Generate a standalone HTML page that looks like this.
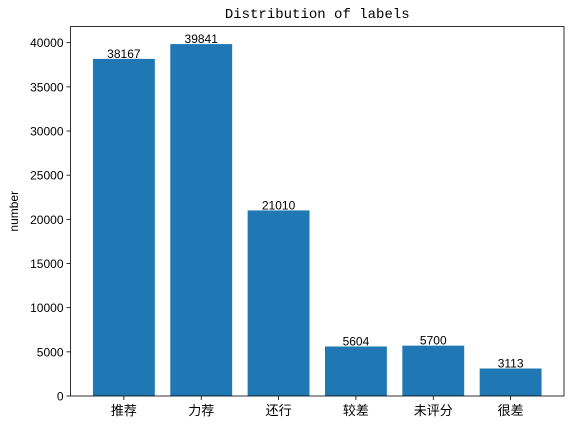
<!DOCTYPE html>
<html><head><meta charset="utf-8"><style>
body{margin:0;background:#fff}
svg{display:block;font-family:"Liberation Sans","Noto Sans CJK SC",sans-serif}
</style></head><body>
<svg id="c" width="574" height="425"></svg>
<script>
const categories=["推荐","力荐","还行","较差","未评分","很差"];
const values=[38167,39841,21010,5604,5700,3113];
const yTicks=[0,5000,10000,15000,20000,25000,30000,35000,40000];
const L=70.5,R=564,T=26.5,B=396;
const ymax=Math.max(...values)*1.05;
const xmin=-0.69,xmax=categories.length-1+0.69;
const xs=i=>L+(i-xmin)/(xmax-xmin)*(R-L);
const ys=v=>B-v/ymax*(B-T);
const svg=document.getElementById('c');
const NS='http://www.w3.org/2000/svg';
function mk(t,a,txt){const e=document.createElementNS(NS,t);for(const k in a)e.setAttribute(k,a[k]);if(txt!==undefined)e.textContent=txt;svg.appendChild(e);return e;}
const step=(R-L)/(xmax-xmin),bw=step*0.8;
values.forEach((v,i)=>{
  const r=mk('rect',{x:xs(i)-bw/2,y:ys(v),width:bw,height:B-ys(v),fill:'#1f77b4'});
  
  
  const t=mk('text',{x:xs(i),y:ys(v)-1,'text-anchor':'middle','font-size':12,fill:'#000'},v);
  
  
  mk('line',{x1:xs(i),x2:xs(i),y1:B,y2:B+4,stroke:'#000','stroke-width':0.8});
  const c=mk('text',{x:xs(i),y:B+19,'text-anchor':'middle','font-size':13,fill:'#000'},categories[i]);
  
  
});
yTicks.forEach(v=>{
  mk('line',{x1:L-4,x2:L,y1:ys(v),y2:ys(v),stroke:'#000','stroke-width':0.8});
  const t=mk('text',{x:L-7,y:ys(v)+4.5,'text-anchor':'end','font-size':12,fill:'#000'},v);
  
  
});
const f=mk('rect',{x:L,y:T,width:R-L,height:B-T,fill:'none',stroke:'#000','stroke-width':0.8});


const ti=mk('text',{x:(L+R)/2,y:18,'text-anchor':'middle','font-size':14,'font-family':'Liberation Mono,monospace',fill:'#000'},'Distribution of labels');


const yl=mk('text',{x:0,y:0,'text-anchor':'middle','font-size':12,transform:`translate(18,${(T+B)/2}) rotate(-90)`,fill:'#000'},'number');


</script>
</body></html>
